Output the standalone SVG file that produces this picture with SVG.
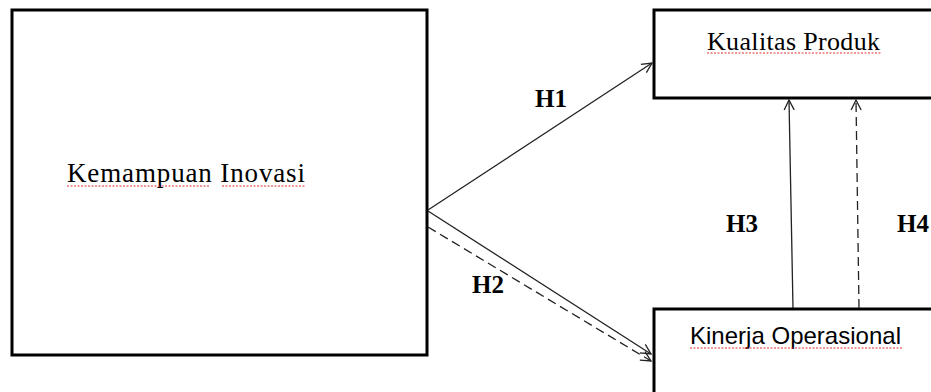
<svg xmlns="http://www.w3.org/2000/svg" width="931" height="392" viewBox="0 0 931 392">
  <defs>
    <marker id="arr" viewBox="0 0 12 12" refX="11" refY="6" markerWidth="12" markerHeight="12" markerUnits="userSpaceOnUse" orient="auto">
      <path d="M1,1 L11,6 L1,11" fill="none" stroke="#222" stroke-width="1.3"/>
    </marker>
  </defs>
  <style>
    .box { fill: #fff; stroke: #000; stroke-width: 3; }
    .serif { font-family: "Liberation Serif", "Times New Roman", serif; fill: #000; }
    .sans { font-family: "Liberation Sans", Arial, sans-serif; fill: #000; }
    .lbl { font-family: "Liberation Serif", "Times New Roman", serif; font-weight: bold; font-size: 25px; fill: #000; }
    .conn { fill: none; stroke: #222; stroke-width: 1.3; }
    .dash { stroke-dasharray: 9 5; }
    .squig { fill: none; stroke: #e03030; stroke-width: 1; stroke-dasharray: 2 1.5; }
  </style>
  <rect width="931" height="392" fill="#fff"/>

  <g id="node-kemampuan">
    <rect class="box" x="12" y="10" width="415" height="345"/>
    <text class="serif" x="67" y="182" font-size="27" textLength="238" lengthAdjust="spacing">Kemampuan Inovasi</text>
    <path class="squig" d="M67,186 H210 M222,186 H305"/>
  </g>

  <g id="node-kualitas">
    <rect class="box" x="654" y="10" width="290" height="88"/>
    <text class="serif" x="707" y="50" font-size="26" textLength="173" lengthAdjust="spacing">Kualitas Produk</text>
    <path class="squig" d="M707,53 H882"/>
  </g>

  <g id="node-kinerja">
    <rect class="box" x="654" y="309" width="290" height="100"/>
    <text class="sans" x="690" y="344" font-size="24" textLength="211" lengthAdjust="spacing">Kinerja Operasional</text>
    <path class="squig" d="M690,348 H903"/>
  </g>

  <g id="connectors">
    <line class="conn" x1="428" y1="210" x2="652" y2="63" marker-end="url(#arr)"/>
    <line class="conn" x1="428" y1="211" x2="651" y2="354" marker-end="url(#arr)"/>
    <line class="conn dash" x1="428" y1="227" x2="651" y2="361" marker-end="url(#arr)"/>
    <line class="conn" x1="793" y1="308" x2="789" y2="100" marker-end="url(#arr)"/>
    <line class="conn dash" x1="859" y1="308" x2="856" y2="100" marker-end="url(#arr)"/>
  </g>

  <g id="labels">
    <text class="lbl" x="535" y="107">H1</text>
    <text class="lbl" x="472" y="293">H2</text>
    <text class="lbl" x="726" y="232">H3</text>
    <text class="lbl" x="897" y="232">H4</text>
  </g>
</svg>
